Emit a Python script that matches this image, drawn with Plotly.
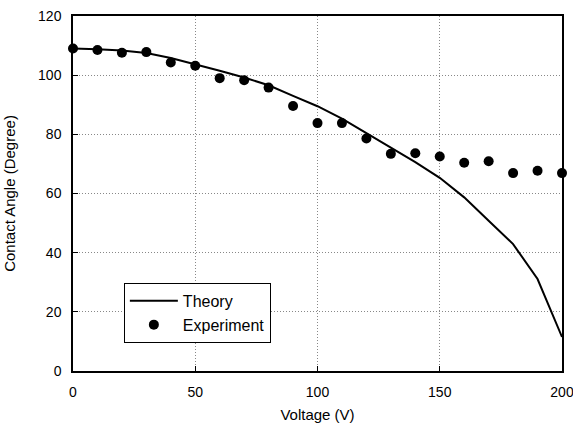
import plotly.graph_objects as go

voltage = [0, 10, 20, 30, 40, 50, 60, 70, 80, 90, 100, 110, 120, 130, 140, 150, 160, 170, 180, 190, 200]
theory = [109.0, 108.8, 108.3, 107.5, 105.8, 103.7, 101.5, 99.2, 96.6, 93.0, 89.5, 85.3, 80.4, 75.7, 70.6, 65.3, 58.7, 50.8, 42.9, 31.1, 11.5]
experiment = [109.0, 108.5, 107.6, 107.8, 104.3, 103.2, 99.0, 98.3, 95.8, 89.6, 83.8, 83.8, 78.6, 73.4, 73.6, 72.5, 70.4, 70.9, 66.9, 67.7, 66.9]

x_ticks = [0, 50, 100, 150, 200]
y_ticks = [0, 20, 40, 60, 80, 100, 120]

FONT = "Liberation Sans, Arial, sans-serif"

fig = go.Figure()
fig.add_trace(go.Scatter(x=voltage, y=theory, mode="lines", name="Theory",
                         line=dict(color="black", width=2)))
fig.add_trace(go.Scatter(x=voltage, y=experiment, mode="markers", name="Experiment",
                         marker=dict(color="black", size=10), cliponaxis=False))

axis_common = dict(
    showline=True, linecolor="black", linewidth=1.5, mirror=True,
    ticks="inside", ticklen=5, tickcolor="black",
    showgrid=True, gridcolor="#888", griddash="1px,2px", gridwidth=1,
    zeroline=False, automargin=False, ticklabeloverflow="allow",
    tickfont=dict(family=FONT, size=14, color="black"),
)

fig.update_xaxes(range=[0, 200], tickvals=x_ticks, ticklabelstandoff=7,
                 title=dict(text="Voltage (V)", font=dict(family=FONT, size=15, color="black"), standoff=12),
                 **axis_common)
fig.update_yaxes(range=[0, 120], tickvals=y_ticks, ticklabelstandoff=7,
                 title=dict(text="Contact Angle (Degree)", font=dict(family=FONT, size=15, color="black"), standoff=19),
                 **axis_common)

fig.update_layout(
    width=573, height=423,
    margin=dict(l=73, r=11, t=16, b=52, autoexpand=False),
    paper_bgcolor="white", plot_bgcolor="white",
    font=dict(family=FONT, color="black"),
    legend=dict(x=0.104, y=0.248, xanchor="left", yanchor="top",
                bordercolor="black", borderwidth=1, bgcolor="white",
                font=dict(family=FONT, size=16, color="black"),
                itemwidth=48, tracegroupgap=0),
    showlegend=True,
)

fig.write_html("out.html", config={"displayModeBar": False},
               post_script="document.body.style.margin='0';document.body.style.overflow='hidden';")
